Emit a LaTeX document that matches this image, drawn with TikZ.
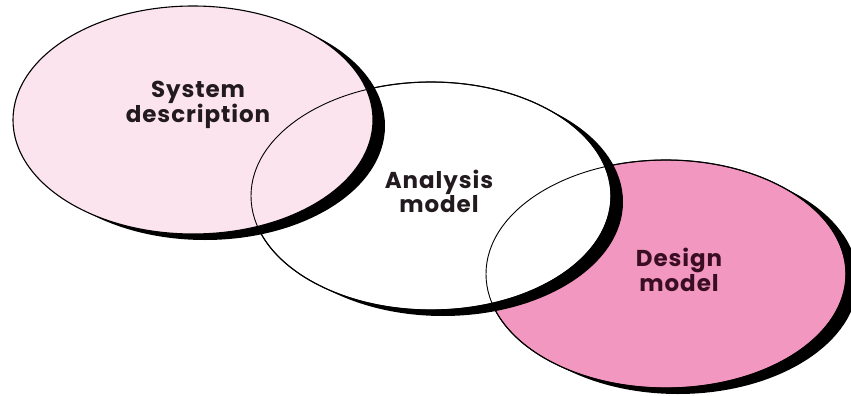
\documentclass[tikz,border=0pt]{standalone}
\usepackage{fontspec}
\setmainfont{Poppins}
\usetikzlibrary{shapes.geometric,shadows}
\definecolor{pinklight}{HTML}{FCE4EE}
\definecolor{pinkdark}{HTML}{F297BF}
\definecolor{textdark}{HTML}{221A1E}
\definecolor{textmaroon}{HTML}{3A0E22}
\begin{document}
\begin{tikzpicture}[x=1pt,y=-1pt,
  venn/.style={ellipse, minimum width=360pt, minimum height=228pt, inner sep=0pt,
    draw=black, line width=1.1pt,
    drop shadow={shadow xshift=12pt, shadow yshift=-6pt, fill=black, opacity=1}},
  rim/.style={ellipse, minimum width=360pt, minimum height=228pt, inner sep=0pt,
    draw=black, line width=0.9pt},
  lbl/.style={font=\fontsize{23}{20}\selectfont\bfseries\addfontfeatures{LetterSpace=4},
    align=center, text=textdark, inner sep=0pt}]
\useasboundingbox (0,0) rectangle (851,396);
% ellipses, back to front
\node[venn, fill=pinkdark] (e3) at (666,274) {};
\node[venn, fill=white] (e2) at (431,196) {};
\node[venn, fill=pinklight] (e1) at (193,120) {};
% outlines of the hidden parts
\node[rim] (r2) at (e2.center) {};
\node[rim] (r3) at (e3.center) {};
% labels
\node[lbl] (t1) at (198,105) {System\\description};
\node[lbl] (t2) at (439,191) {Analysis\\model};
\node[lbl, text=textmaroon] (t3) at (679,270) {Design\\model};
\end{tikzpicture}
\end{document}
